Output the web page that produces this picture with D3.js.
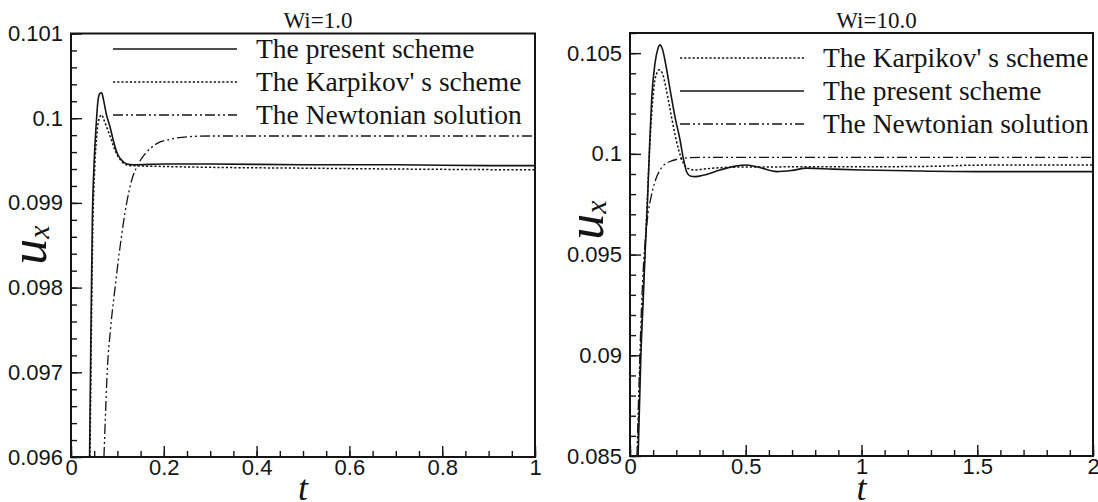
<!DOCTYPE html>
<html>
<head>
<meta charset="utf-8">
<script src="https://cdn.jsdelivr.net/npm/d3@7"></script>
<style>
  body { margin: 0; background: #fff; }
  svg { display: block; }
</style>
</head>
<body>
<svg id="chart" width="1098" height="502"></svg>
<script>
// Wi = 1.0 panel
const wi1PresentT   = [0.040, 0.043, 0.046, 0.050, 0.054, 0.058, 0.062, 0.066, 0.070, 0.076, 0.084, 0.092, 0.100, 0.110, 0.120, 0.135, 0.2, 0.3, 0.5, 0.7, 0.9, 1.0];
const wi1PresentU   = [0.0960, 0.0975, 0.0988, 0.0995, 0.0999, 0.10020, 0.10029, 0.10030, 0.10022, 0.10005, 0.09990, 0.09972, 0.09958, 0.09950, 0.09946, 0.09945, 0.09946, 0.09946, 0.09945, 0.09945, 0.09944, 0.09944];
const wi1KarpikovT  = [0.041, 0.044, 0.047, 0.051, 0.056, 0.061, 0.066, 0.071, 0.078, 0.086, 0.095, 0.105, 0.115, 0.130, 0.2, 0.3, 0.5, 0.7, 1.0];
const wi1KarpikovU  = [0.0960, 0.0975, 0.0987, 0.0994, 0.09982, 0.10000, 0.10004, 0.09998, 0.09988, 0.09976, 0.09962, 0.09952, 0.09946, 0.09944, 0.09943, 0.09942, 0.09941, 0.09940, 0.09939];
const wi1NewtonT    = [0.071, 0.075, 0.078, 0.085, 0.095, 0.105, 0.120, 0.131, 0.144, 0.160, 0.185, 0.213, 0.250, 0.300, 0.5, 1.0];
const wi1NewtonU    = [0.0960, 0.0966, 0.0970, 0.0975, 0.0980, 0.09845, 0.0990, 0.09927, 0.09945, 0.09958, 0.09970, 0.09975, 0.09978, 0.09979, 0.09979, 0.09979];

// Wi = 10.0 panel
const wi10PresentT  = [0.035, 0.047, 0.058, 0.065, 0.075, 0.085, 0.094, 0.108, 0.120, 0.130, 0.140, 0.155, 0.173, 0.195, 0.216, 0.230, 0.245, 0.260, 0.281, 0.320, 0.389, 0.450, 0.504, 0.560, 0.634, 0.700, 0.763, 0.878, 1.0, 1.2, 1.5, 2.0];
const wi10PresentU  = [0.0850, 0.0900, 0.0930, 0.0950, 0.0975, 0.1005, 0.1028, 0.1045, 0.1052, 0.10541, 0.1052, 0.1044, 0.1032, 0.1018, 0.1007, 0.0998, 0.0991, 0.09890, 0.09887, 0.09895, 0.0992, 0.09938, 0.09945, 0.09932, 0.09912, 0.09918, 0.09929, 0.09924, 0.0992, 0.09916, 0.09912, 0.09912];
const wi10KarpikovT = [0.033, 0.045, 0.056, 0.064, 0.074, 0.085, 0.097, 0.110, 0.127, 0.140, 0.155, 0.170, 0.190, 0.210, 0.230, 0.250, 0.280, 0.330, 0.45, 0.6, 0.8, 1.0, 1.3, 1.5, 2.0];
const wi10KarpikovU = [0.0850, 0.0900, 0.0930, 0.0950, 0.0975, 0.1003, 0.1025, 0.1038, 0.10417, 0.1040, 0.1033, 0.1024, 0.1012, 0.1002, 0.09955, 0.09928, 0.09920, 0.09926, 0.09934, 0.09935, 0.09936, 0.09936, 0.09938, 0.09944, 0.09945];
const wi10NewtonT   = [0.030, 0.040, 0.050, 0.060, 0.070, 0.080, 0.090, 0.100, 0.115, 0.130, 0.150, 0.173, 0.200, 0.245, 0.300, 0.5, 2.0];
const wi10NewtonU   = [0.0850, 0.0890, 0.0925, 0.0948, 0.0962, 0.0972, 0.0978, 0.0983, 0.09885, 0.0992, 0.09948, 0.09962, 0.09972, 0.09980, 0.09983, 0.09983, 0.09983];

// tick labels
const wi1XTicks   = ["0", "0.2", "0.4", "0.6", "0.8", "1"];
const wi1YTicks   = ["0.096", "0.097", "0.098", "0.099", "0.1", "0.101"];
const wi10XTicks  = ["0", "0.5", "1", "1.5", "2"];
const wi10YTicks  = ["0.085", "0.09", "0.095", "0.1", "0.105"];

const seriesNames = {
    present: "The present scheme",
    karpikov: "The Karpikov' s scheme",
    newton: "The Newtonian solution"
};

const lineStyle = {
    present:  { dash: null,            width: 1.6 },
    karpikov: { dash: "2.2,2",         width: 1.5 },
    newton:   { dash: "10,3,2,3,2,3",  width: 1.3 }
};

const svg = d3.select("#chart");
const ink = "#141414";

function zip(ts, us) {
    return ts.map((t, i) => ({ t: t, u: us[i] }));
}

function drawPanel(p) {
    const x = d3.scaleLinear().domain(p.xDomain).range([p.left, p.right]);
    const y = d3.scaleLinear().domain(p.yDomain).range([p.bottom, p.top]);
    const g = svg.append("g");

    // 小刻度
    g.append("g")
        .attr("transform", `translate(${p.left},0)`)
        .call(d3.axisLeft(y).tickValues(d3.range(p.yDomain[0], p.yDomain[1] + 1e-9, p.yMinor))
            .tickSizeInner(-6).tickSizeOuter(0).tickFormat(""))
        .call(a => a.select(".domain").remove());
    g.append("g")
        .attr("transform", `translate(0,${p.bottom})`)
        .call(d3.axisBottom(x).tickValues(d3.range(p.xDomain[0], p.xDomain[1] + 1e-9, p.xMinor))
            .tickSizeInner(-6).tickSizeOuter(0).tickFormat(""))
        .call(a => a.select(".domain").remove());

    // 主刻度
    const yAxis = g.append("g")
        .attr("transform", `translate(${p.left},0)`)
        .call(d3.axisLeft(y).tickValues(p.yTicks.map(Number))
            .tickSizeInner(-11).tickSizeOuter(0).tickPadding(8)
            .tickFormat((d, i) => p.yTicks[i]));
    const xAxis = g.append("g")
        .attr("transform", `translate(0,${p.bottom})`)
        .call(d3.axisBottom(x).tickValues(p.xTicks.map(Number))
            .tickSizeInner(-11).tickSizeOuter(0).tickPadding(2)
            .tickFormat((d, i) => p.xTicks[i]));
    [yAxis, xAxis].forEach(a => {
        a.select(".domain").remove();
        a.selectAll("text")
            .style("font-family", "'Liberation Sans', Arial, sans-serif")
            .style("font-size", "22px")
            .attr("fill", ink);
    });
    g.selectAll(".tick line").attr("stroke", ink).attr("stroke-width", 1.4);

    // 曲线
    const clipId = "clip-" + p.id;
    svg.append("clipPath").attr("id", clipId)
        .append("rect")
        .attr("x", p.left).attr("y", p.top)
        .attr("width", p.right - p.left).attr("height", p.bottom - p.top);

    const line = d3.line()
        .x(d => x(d.t))
        .y(d => y(d.u))
        .curve(d3.curveMonotoneX);

    const curves = g.append("g").attr("clip-path", `url(#${clipId})`);
    p.series.forEach(s => {
        const st = lineStyle[s.key];
        curves.append("path")
            .datum(zip(s.t, s.u))
            .attr("d", line)
            .attr("fill", "none")
            .attr("stroke", ink)
            .attr("stroke-width", st.width)
            .attr("stroke-dasharray", st.dash);
    });

    // 边框
    g.append("rect")
        .attr("x", p.left).attr("y", p.top)
        .attr("width", p.right - p.left).attr("height", p.bottom - p.top)
        .attr("fill", "none").attr("stroke", ink).attr("stroke-width", 2);

    // 图例
    p.legendOrder.forEach((key, i) => {
        const st = lineStyle[key];
        const ly = p.legendY + i * 33;
        g.append("line")
            .attr("x1", p.legendX).attr("x2", p.legendX + 124)
            .attr("y1", ly).attr("y2", ly)
            .attr("stroke", ink)
            .attr("stroke-width", st.width)
            .attr("stroke-dasharray", st.dash);
        g.append("text")
            .attr("x", p.legendX + 143).attr("y", ly + 9)
            .style("font-family", "'Liberation Serif', 'Times New Roman', serif")
            .style("font-size", "27.5px")
            .attr("fill", ink)
            .text(seriesNames[key]);
    });

    // 标题
    g.append("text")
        .attr("x", (p.left + p.right) / 2 + 15).attr("y", 28)
        .attr("text-anchor", "middle")
        .style("font-family", "'Liberation Serif', 'Times New Roman', serif")
        .style("font-size", "23px")
        .attr("fill", ink)
        .text(p.title);

    // 坐标轴标签
    g.append("text")
        .attr("x", (p.left + p.right) / 2).attr("y", 500)
        .attr("text-anchor", "middle")
        .style("font-family", "'Liberation Serif', 'Times New Roman', serif")
        .style("font-style", "italic")
        .style("font-size", "36px")
        .attr("fill", ink)
        .text("t");

    const yl = g.append("text")
        .attr("transform", `translate(${p.yLabelX},${p.yLabelY}) rotate(-90)`)
        .attr("text-anchor", "middle")
        .style("font-family", "'Liberation Serif', 'Times New Roman', serif")
        .style("font-style", "italic")
        .attr("fill", ink);
    yl.append("tspan").style("font-size", "52px").text("u");
    yl.append("tspan").style("font-size", "30px").attr("dy", 3).text("x");
}

drawPanel({
    id: "wi1", title: "Wi=1.0",
    left: 71, right: 535, top: 33.5, bottom: 457,
    xDomain: [0, 1], yDomain: [0.096, 0.101],
    xMinor: 0.05, yMinor: 0.0002,
    xTicks: wi1XTicks, yTicks: wi1YTicks,
    legendX: 113, legendY: 49,
    legendOrder: ["present", "karpikov", "newton"],
    yLabelX: 46, yLabelY: 245,
    series: [
        { key: "present",  t: wi1PresentT,  u: wi1PresentU },
        { key: "karpikov", t: wi1KarpikovT, u: wi1KarpikovU },
        { key: "newton",   t: wi1NewtonT,   u: wi1NewtonU }
    ]
});

drawPanel({
    id: "wi10", title: "Wi=10.0",
    left: 630, right: 1093, top: 33, bottom: 456,
    xDomain: [0, 2], yDomain: [0.085, 0.106],
    xMinor: 0.1, yMinor: 0.001,
    xTicks: wi10XTicks, yTicks: wi10YTicks,
    legendX: 680, legendY: 58,
    legendOrder: ["karpikov", "present", "newton"],
    yLabelX: 603, yLabelY: 220,
    series: [
        { key: "karpikov", t: wi10KarpikovT, u: wi10KarpikovU },
        { key: "present",  t: wi10PresentT,  u: wi10PresentU },
        { key: "newton",   t: wi10NewtonT,   u: wi10NewtonU }
    ]
});
</script>
</body>
</html>
